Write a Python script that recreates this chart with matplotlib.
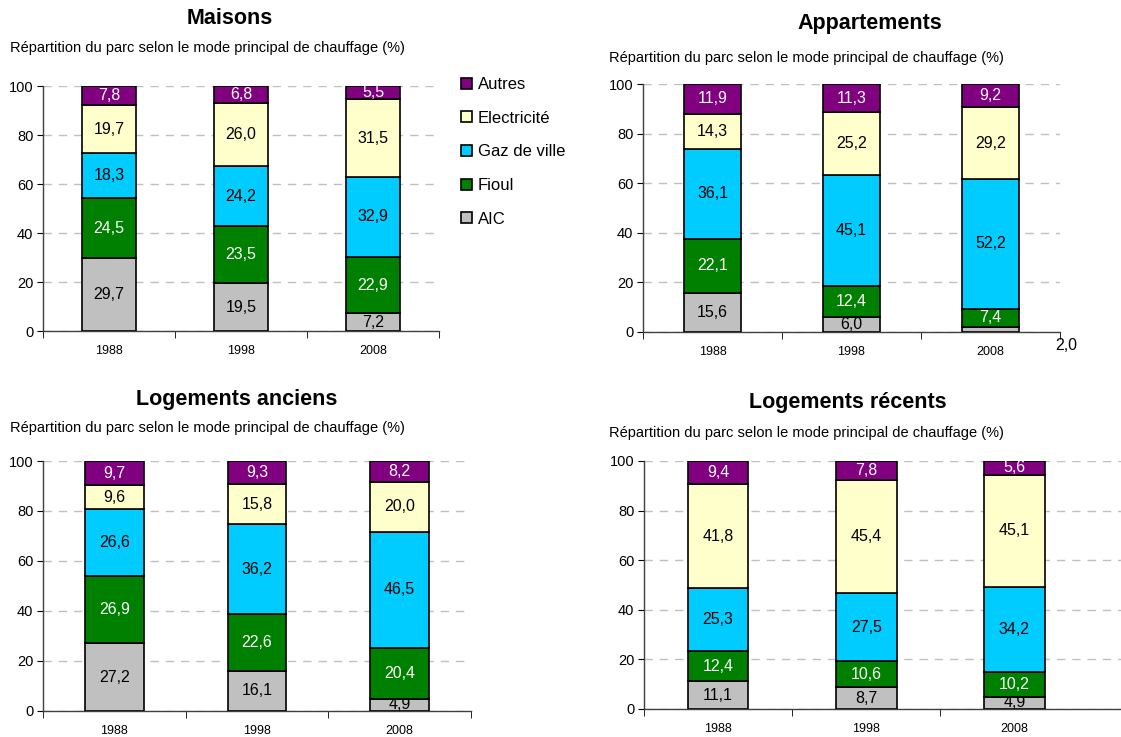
import matplotlib.pyplot as plt

plt.rcParams["font.family"] = ["Liberation Sans", "DejaVu Sans"]

years = ["1988", "1998", "2008"]
modes = ["AIC", "Fioul", "Gaz de ville", "Electricité", "Autres"]
colors = ["#C0C0C0", "#008000", "#00CCFF", "#FFFFCC", "#800080"]
label_colors = ["black", "white", "black", "black", "white"]

# one row per heating mode (bottom to top), one column per year
maisons = [
    [29.7, 19.5, 7.2],
    [24.5, 23.5, 22.9],
    [18.3, 24.2, 32.9],
    [19.7, 26.0, 31.5],
    [7.8, 6.8, 5.5],
]
appartements = [
    [15.6, 6.0, 2.0],
    [22.1, 12.4, 7.4],
    [36.1, 45.1, 52.2],
    [14.3, 25.2, 29.2],
    [11.9, 11.3, 9.2],
]
anciens = [
    [27.2, 16.1, 4.9],
    [26.9, 22.6, 20.4],
    [26.6, 36.2, 46.5],
    [9.6, 15.8, 20.0],
    [9.7, 9.3, 8.2],
]
recents = [
    [11.1, 8.7, 4.9],
    [12.4, 10.6, 10.2],
    [25.3, 27.5, 34.2],
    [41.8, 45.4, 45.1],
    [9.4, 7.8, 5.6],
]

subtitle = "Répartition du parc selon le mode principal de chauffage (%)"

W, H = 1121, 737
fig = plt.figure(figsize=(W / 100, H / 100), dpi=100)


def px_rect(left, top, right, bottom):
    return [left / W, 1 - bottom / H, (right - left) / W, (bottom - top) / H]


def fmt(v):
    return f"{v:.1f}".replace(".", ",")


def draw_panel(rect, values, xmax=2.5, outside=None, bounds=(-0.5, 0.5, 1.5, 2.5)):
    ax = fig.add_axes(px_rect(*rect))
    x = range(len(years))
    bottom = [0.0] * len(years)
    bars = []
    for i, row in enumerate(values):
        b = ax.bar(x, row, 0.41, bottom=bottom, color=colors[i],
                   edgecolor="black", linewidth=1.2, label=modes[i], zorder=3)
        labels = [fmt(v) for v in row]
        if outside is not None and outside[0] == i:
            labels[outside[1]] = ""
        ax.bar_label(b, labels=labels, label_type="center",
                     color=label_colors[i], fontsize=11.5)
        bars.append(b)
        bottom = [bt + v for bt, v in zip(bottom, row)]

    # segment too thin for its label: write it beside the axis
    if outside is not None:
        i, j = outside
        ax.annotate(fmt(values[i][j]), (j, values[i][j] / 2),
                    xytext=(76, -16), textcoords="offset pixels",
                    ha="center", va="center", fontsize=11.5)

    ax.set_ylim(0, 100)
    ax.set_xlim(-0.5, xmax)
    ax.set_yticks(range(0, 101, 20))
    ax.tick_params(axis="y", labelsize=10.5, length=4, pad=3)
    ax.set_xticks(list(x))
    ax.set_xticklabels(years, fontsize=9)
    ax.tick_params(axis="x", length=0, pad=10)
    ax.set_xticks(list(bounds), minor=True)
    ax.tick_params(axis="x", which="minor", length=5, direction="out")
    ax.yaxis.grid(True, color="#C0C0C0", linestyle=(0, (6, 5)), linewidth=1)
    ax.set_axisbelow(True)
    for side in ("top", "right"):
        ax.spines[side].set_visible(False)
    for side in ("left", "bottom"):
        ax.spines[side].set_linewidth(1)
        ax.spines[side].set_color("#404040")
    return ax, bars


ax1, bars1 = draw_panel((43, 86, 439, 331), maisons)
draw_panel((643, 84, 1060, 332), appartements, outside=(0, 2))
draw_panel((43, 461, 471, 711), anciens)
draw_panel((644, 461, 1121, 709), recents, xmax=2.72,
           bounds=(-0.5, 0.5, 1.5))

titles = [
    ("Maisons", 230, 18, 10, 48),
    ("Appartements", 870, 24, 609, 58),
    ("Logements anciens", 237, 400, 10, 428),
    ("Logements récents", 848, 403, 609, 433),
]
for name, tx, ty, sx, sy in titles:
    fig.text(tx / W, 1 - ty / H, name, ha="center", va="center",
             fontsize=15.5, fontweight="bold")
    fig.text(sx / W, 1 - sy / H, subtitle, ha="left", va="center", fontsize=10.5)

fig.legend(bars1[::-1], modes[::-1], loc="upper left",
           bbox_to_anchor=(461 / W, 1 - 77 / H), frameon=False, fontsize=12,
           handlelength=0.63, handleheight=0.63, handletextpad=0.36,
           labelspacing=1.12, borderaxespad=0, borderpad=0)

fig.savefig("out.png", dpi=100)
